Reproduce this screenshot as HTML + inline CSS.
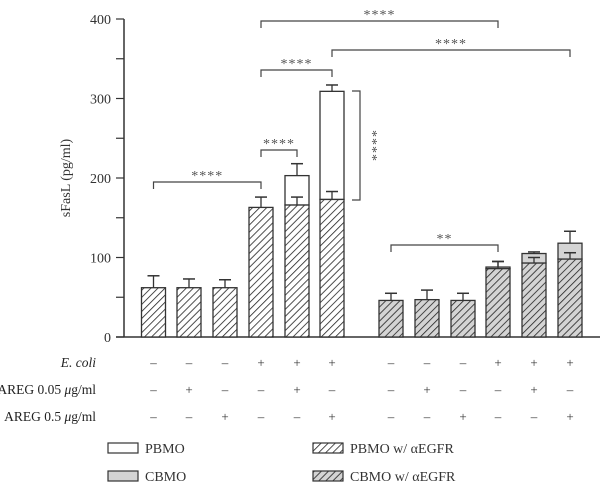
<!DOCTYPE html>
<html><head><meta charset="utf-8"><style>
html,body{margin:0;padding:0;background:#fff;}
svg{display:block;font-family:"Liberation Serif",serif;}
</style></head><body>
<svg id="chart" width="600" height="488" viewBox="0 0 600 488" xmlns="http://www.w3.org/2000/svg">
<defs>
<pattern id="hatchW" patternUnits="userSpaceOnUse" width="5" height="5" patternTransform="rotate(45)">
<rect width="5" height="5" fill="#fff"/><line x1="0" y1="0" x2="0" y2="5" stroke="#222" stroke-width="1.6"/></pattern>
<pattern id="hatchG" patternUnits="userSpaceOnUse" width="5" height="5" patternTransform="rotate(45)">
<rect width="5" height="5" fill="#d4d4d4"/><line x1="0" y1="0" x2="0" y2="5" stroke="#222" stroke-width="1.6"/></pattern>
</defs>
<g id="axes"></g><g id="bars"></g><g id="sig"></g><g id="table"></g><g id="legend"></g>
</svg>
<script>
const centers=[153.5,189,225,261,297,332,391,427,463,498,534,570];
const hatchedVals=[62,62,62,163,166,173,46,47,46,86,93,98];
const hatchedErr=[77,73,72,176,176,183,55,59,55,95,100,106];
const totalVals=[62,62,62,163,203,309,46,47,46,88,105,118];
const totalErr=[77,73,72,176,218,317,55,59,55,95,107,133];
const yTicks=[0,100,200,300,400];
const ecoli=["–","–","–","+","+","+","–","–","–","+","+","+"];
const areg005=["–","+","–","–","+","–","–","+","–","–","+","–"];
const areg05=["–","–","+","–","–","+","–","–","+","–","–","+"];
const NS="http://www.w3.org/2000/svg";
const y=v=>337-v*318/400;
function el(t,a,p){const e=document.createElementNS(NS,t);for(const k in a)e.setAttribute(k,a[k]);p.appendChild(e);return e;}
const ax=document.getElementById('axes');
let e=el('line',{x1:124,y1:19,x2:124,y2:337,stroke:'#333','stroke-width':1.5},ax);

e=el('line',{x1:116,y1:337,x2:600,y2:337,stroke:'#333','stroke-width':1.5},ax);

for(let v=0;v<=400;v+=50){e=el('line',{x1:116,y1:y(v),x2:124,y2:y(v),stroke:'#333','stroke-width':1.2},ax);
}
yTicks.forEach(v=>{const t=el('text',{x:111,y:y(v)+5,'text-anchor':'end','font-size':14,fill:'#333'},ax);t.textContent=v;
});
e=el('text',{x:0,y:0,transform:'translate(70,178) rotate(-90)','text-anchor':'middle','font-size':14,fill:'#333'},ax);
e.textContent='sFasL (pg/ml)';
const bg=document.getElementById('bars');const w=24;
centers.forEach((c,i)=>{
 const g2=i>=6;
 if(totalVals[i]>hatchedVals[i]){
  e=el('rect',{x:c-w/2,y:y(totalVals[i]),width:w,height:y(hatchedVals[i])-y(totalVals[i]),fill:g2?'#d4d4d4':'#fff',stroke:'#333','stroke-width':1.3},bg);
  
  if(totalErr[i]>totalVals[i]){
   el('line',{x1:c,y1:y(totalVals[i]),x2:c,y2:y(totalErr[i]),stroke:'#333','stroke-width':1.3},bg);
   el('line',{x1:c-6,y1:y(totalErr[i]),x2:c+6,y2:y(totalErr[i]),stroke:'#333','stroke-width':1.5},bg);}
 }
 e=el('rect',{x:c-w/2,y:y(hatchedVals[i]),width:w,height:337-y(hatchedVals[i]),fill:g2?'url(#hatchG)':'url(#hatchW)',stroke:'#333','stroke-width':1.3},bg);
 
 el('line',{x1:c,y1:y(hatchedVals[i]),x2:c,y2:y(hatchedErr[i]),stroke:'#333','stroke-width':1.3},bg);
 el('line',{x1:c-6,y1:y(hatchedErr[i]),x2:c+6,y2:y(hatchedErr[i]),stroke:'#333','stroke-width':1.5},bg);
});
const sg=document.getElementById('sig');
function br(x1,x2,yy,txt){
 e=el('path',{d:`M${x1},${yy+7}V${yy}H${x2}V${yy+7}`,fill:'none',stroke:'#444','stroke-width':1.2},sg);
 
 const t=el('text',{x:(x1+x2)/2,y:yy-2,'text-anchor':'middle','font-size':14,'letter-spacing':1,fill:'#555'},sg);t.textContent=txt;
 
}
br(261,498,21,'****');br(332,570,50,'****');br(261,332,70,'****');br(261,297,150,'****');br(153.5,261,182,'****');br(391,498,245,'**');
e=el('path',{d:'M352,91H360V200H352',fill:'none',stroke:'#444','stroke-width':1.2},sg);

e=el('text',{x:0,y:0,transform:'translate(368,146) rotate(90)','text-anchor':'middle','font-size':14,'letter-spacing':1,fill:'#555'},sg);e.textContent='****';

const tb=document.getElementById('table');
const rows=[[ecoli,362,'E. coli'],[areg005,389,'AREG 0.05 μg/ml'],[areg05,416,'AREG 0.5 μg/ml']];
rows.forEach(([arr,yy,lab],r)=>{
 const t=el('text',{x:96,y:yy+5,'text-anchor':'end','font-size':13.5,fill:'#222','font-style':r==0?'italic':'normal'},tb);
 if(r==0)t.textContent=lab;else{t.innerHTML=lab.replace('μ','<tspan font-style="italic">μ</tspan>');}
 
 arr.forEach((s,i)=>{const u=el('text',{x:centers[i],y:yy+5,'text-anchor':'middle','font-size':13,fill:'#333'},tb);u.textContent=s;
 });
});
const lg=document.getElementById('legend');
[[108,448,'#fff','PBMO'],[108,476,'#d4d4d4','CBMO'],[313,448,'url(#hatchW)','PBMO w/ αEGFR'],[313,476,'url(#hatchG)','CBMO w/ αEGFR']].forEach(([x,yy,f,l])=>{
 const r=el('rect',{x:x,y:yy-5,width:30,height:10,fill:f,stroke:'#333','stroke-width':1.2},lg);
 
 const t=el('text',{x:x+37,y:yy+5,'font-size':14,fill:'#333'},lg);t.textContent=l;
 
});
</script>
</body></html>
